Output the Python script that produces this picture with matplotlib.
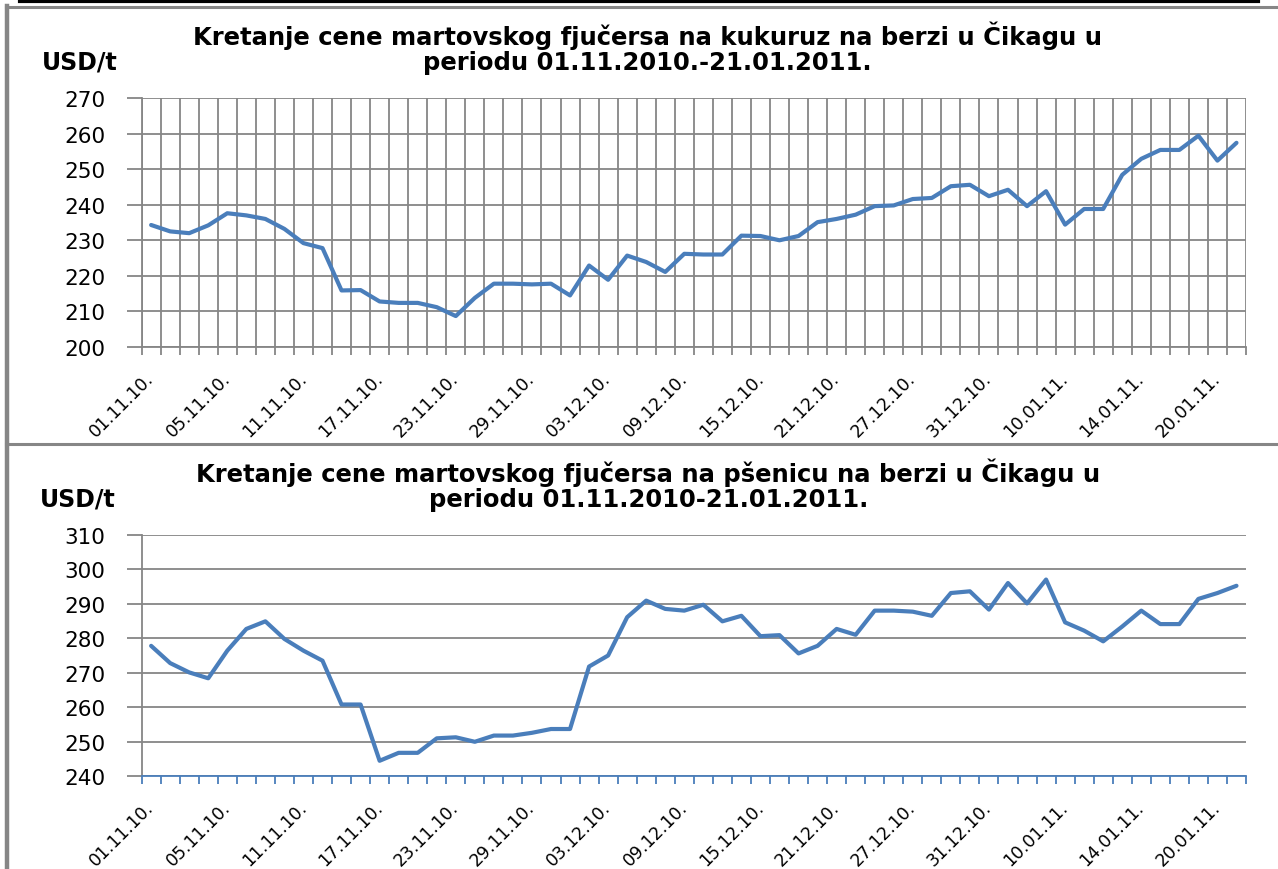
import matplotlib
matplotlib.use("Agg")
import matplotlib.pyplot as plt
from matplotlib.lines import Line2D
import numpy as np

# ---------------- data ----------------
tick_labels = ["01.11.10.", "05.11.10.", "11.11.10.", "17.11.10.", "23.11.10.",
               "29.11.10.", "03.12.10.", "09.12.10.", "15.12.10.", "21.12.10.",
               "27.12.10.", "31.12.10.", "10.01.11.", "14.01.11.", "20.01.11."]
label_step = 4

corn = [234.3, 232.5, 232.0, 234.2, 237.6, 237.0, 236.0, 233.2, 229.2, 227.8,
        215.9, 216.0, 212.8, 212.4, 212.4, 211.2, 208.7, 213.8, 217.8, 217.8,
        217.6, 217.8, 214.5, 222.9, 218.9, 225.7, 223.9, 221.1, 226.2, 226.0,
        226.0, 231.3, 231.2, 230.0, 231.2, 235.1, 236.0, 237.2, 239.6, 239.8,
        241.6, 241.9, 245.2, 245.6, 242.4, 244.2, 239.6, 243.8, 234.4, 238.8,
        238.8, 248.4, 252.9, 255.4, 255.4, 259.4, 252.4, 257.4]

wheat = [277.8, 272.8, 270.1, 268.4, 276.4, 282.7, 284.9, 279.8, 276.4, 273.5,
         260.8, 260.8, 244.5, 246.8, 246.8, 251.0, 251.3, 250.0, 251.8, 251.8,
         252.6, 253.7, 253.7, 271.8, 275.0, 286.1, 290.9, 288.5, 288.0, 289.7,
         284.9, 286.5, 280.6, 280.9, 275.6, 277.8, 282.7, 281.0, 288.0, 288.0,
         287.7, 286.5, 293.1, 293.6, 288.3, 296.0, 290.1, 297.0, 284.6, 282.2,
         279.1, 283.4, 288.0, 284.1, 284.1, 291.4, 293.1, 295.2]

title_corn = ["Kretanje cene martovskog fjučersa na kukuruz na berzi u Čikagu u",
              "periodu 01.11.2010.-21.01.2011."]
title_wheat = ["Kretanje cene martovskog fjučersa na pšenicu na berzi u Čikagu u",
               "periodu 01.11.2010-21.01.2011."]
unit = "USD/t"

# ---------------- layout ----------------
W, H = 1278, 870
fig = plt.figure(figsize=(W / 100, H / 100), dpi=100)
fig.patch.set_facecolor("white")

def rect(l, t, r, b):
    return [l / W, 1 - b / H, (r - l) / W, (b - t) / H]

def fx(x):
    return x / W

def fy(y):
    return 1 - y / H

GRID = "#868686"
BLUE = "#4A7EBB"

# frame decorations
fig.add_artist(Line2D([fx(20), fx(1258)], [fy(1.5), fy(1.5)], color="black", lw=3.0))
fig.add_artist(Line2D([fx(6), fx(1278)], [fy(7.5), fy(7.5)], color=GRID, lw=2.2))
fig.add_artist(Line2D([fx(6.5), fx(6.5)], [fy(7), fy(870)], color=GRID, lw=3.2))
fig.add_artist(Line2D([fx(6), fx(1278)], [fy(445), fy(445)], color=GRID, lw=2.2))


def make_chart(ax, values, ymin, ymax, vgrid, axis_color):
    n = len(values)
    x = np.arange(n)
    ax.plot(x, values, color=BLUE, lw=3.0, solid_joinstyle="round",
            solid_capstyle="round", zorder=5)
    ax.set_xlim(-0.5, n - 0.5)
    ax.set_ylim(ymin, ymax)
    ax.set_yticks(np.arange(ymin, ymax + 1, 10))
    for s in ["top", "right"]:
        ax.spines[s].set_visible(False)
    ax.spines["left"].set_color(GRID)
    ax.spines["left"].set_linewidth(1.3)
    ax.spines["bottom"].set_color(axis_color)
    ax.spines["bottom"].set_linewidth(1.3)
    ax.yaxis.grid(True, color=GRID, lw=1.3)
    ax.set_axisbelow(True)
    # category boundaries as major ticks
    ax.set_xticks(np.arange(-0.5, n, 1.0))
    ax.set_xticklabels([])
    ax.tick_params(axis="x", which="major", direction="out", length=5.5,
                   width=1.3, color=axis_color)
    if vgrid:
        ax.xaxis.grid(True, which="major", color=GRID, lw=1.3)
    # labelled categories as minor ticks
    pos = np.arange(0, n, label_step)[:len(tick_labels)]
    ax.set_xticks(pos, minor=True)
    ax.set_xticklabels(tick_labels, minor=True, rotation=45, ha="right",
                       va="center", rotation_mode="anchor", fontsize=12.5,
                       family="DejaVu Sans")
    ax.tick_params(axis="x", which="minor", length=0, pad=20)
    ax.tick_params(axis="y", direction="out", length=11, width=1.3,
                   color=GRID, labelsize=15.5, pad=15)
    for t in ax.get_yticklabels():
        t.set_family("DejaVu Sans")


ax1 = fig.add_axes(rect(141.6, 99, 1246, 348))
make_chart(ax1, corn, 200, 270, True, GRID)

ax2 = fig.add_axes(rect(141.6, 535.7, 1246, 777.3))
make_chart(ax2, wheat, 240, 310, False, BLUE)

# titles and units
TS = 17.5
fig.text(fx(647.5), fy(36), title_corn[0], ha="center", va="center",
         fontsize=TS, fontweight="bold")
fig.text(fx(647.5), fy(63), title_corn[1], ha="center", va="center",
         fontsize=TS, fontweight="bold")
fig.text(fx(42), fy(62), unit, ha="left", va="center", fontsize=17,
         fontweight="bold")

fig.text(fx(648.5), fy(473), title_wheat[0], ha="center", va="center",
         fontsize=TS, fontweight="bold")
fig.text(fx(648.5), fy(500), title_wheat[1], ha="center", va="center",
         fontsize=TS, fontweight="bold")
fig.text(fx(40), fy(500), unit, ha="left", va="center", fontsize=17,
         fontweight="bold")

fig.savefig("out.png", dpi=100, facecolor="white")
